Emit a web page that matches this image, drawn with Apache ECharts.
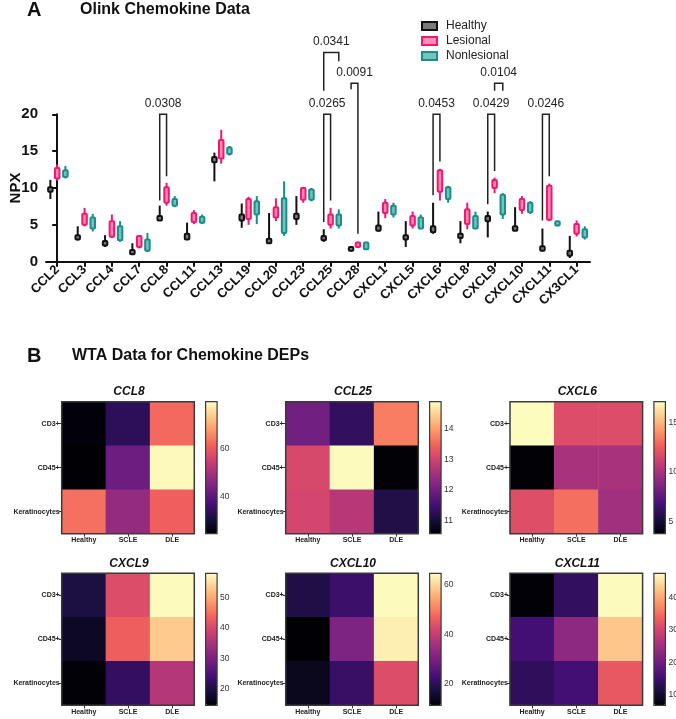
<!DOCTYPE html>
<html><head><meta charset="utf-8">
<script src="https://cdn.jsdelivr.net/npm/echarts@6/dist/echarts.min.js"></script>
<style>html,body{margin:0;padding:0;background:#fff}#c{width:676px;height:719px}</style>
</head><body><div id="c"></div>
<script>
// ---------- Panel A data ----------
const categories = ['CCL2','CCL3','CCL4','CCL7','CCL8','CCL11','CCL13','CCL19','CCL20','CCL23','CCL25','CCL28','CXCL1','CXCL5','CXCL6','CXCL8','CXCL9','CXCL10','CXCL11','CX3CL1'];
const groups = ['Healthy','Lesional','Nonlesional'];
const yTicks = [0,5,10,15,20];
// [min, q1, median, q3, max]
const healthy = [
  [8.5,9.5,9.8,10.1,11.1],[2.9,3.0,3.3,3.6,4.8],[2.0,2.2,2.5,2.8,3.6],[0.9,1.0,1.3,1.6,2.5],
  [5.6,5.6,5.9,6.2,7.6],[3.0,3.0,3.4,3.8,5.3],[10.9,13.5,13.8,14.2,14.8],[4.6,5.6,6.0,6.4,7.9],
  [2.5,2.5,2.8,3.1,6.6],[5.0,5.8,6.1,6.5,8.9],[2.7,2.9,3.2,3.5,4.4],[1.4,1.5,1.7,2.0,2.0],
  [4.1,4.2,4.5,4.9,6.8],[2.0,3.0,3.3,3.6,5.5],[3.8,4.0,4.4,4.8,8.0],[2.5,3.2,3.5,3.8,5.5],
  [3.3,5.5,5.8,6.2,6.8],[4.2,4.2,4.5,4.8,7.4],[1.5,1.5,1.8,2.1,4.5],[0.5,0.8,1.1,1.5,3.5]
];
const lesional = [
  [11.0,11.3,12.0,12.7,13.2],[4.8,5.0,5.8,6.5,7.3],[3.2,3.4,4.3,5.5,6.4],[1.8,2.0,2.7,3.5,3.6],
  [7.6,8.0,9.0,10.1,10.7],[5.1,5.4,6.0,6.6,7.0],[13.3,14.0,15.2,16.5,17.9],[5.0,5.8,7.0,8.5,8.8],
  [5.5,6.0,6.7,7.4,8.6],[8.0,8.4,9.2,10.0,10.1],[4.5,5.0,5.7,6.4,7.3],[2.0,2.0,2.3,2.6,2.7],
  [5.9,6.6,7.3,8.0,8.5],[4.5,4.9,5.5,6.2,6.8],[8.3,9.5,11.0,12.4,12.6],[4.4,5.1,6.0,7.1,8.0],
  [9.3,10.0,10.5,11.1,11.4],[6.5,7.0,7.8,8.5,8.9],[5.5,5.7,8.0,10.3,10.6],[3.4,3.8,4.4,5.1,5.6]
];
const nonlesional = [
  [11.3,11.5,12.0,12.4,13.0],[4.1,4.5,5.2,6.0,6.5],[2.7,2.9,3.8,4.8,5.5],[1.3,1.5,2.2,3.0,3.9],
  [7.4,7.6,8.0,8.5,8.9],[5.1,5.3,5.7,6.1,6.4],[14.4,14.6,15.0,15.5,15.7],[5.1,6.4,7.2,8.2,8.9],
  [3.5,3.9,6.0,8.6,10.9],[8.2,8.4,9.1,9.8,10.0],[4.5,4.9,5.6,6.4,7.1],[1.6,1.7,2.1,2.6,2.7],
  [6.0,6.4,7.0,7.6,8.0],[4.4,4.5,5.2,6.0,6.4],[8.0,8.5,9.3,10.1,10.3],[4.5,4.5,5.3,6.2,6.8],
  [5.8,6.4,7.8,9.1,9.3],[6.5,6.7,7.3,8.0,8.2],[4.8,4.9,5.2,5.5,5.5],[3.0,3.3,3.8,4.4,4.8]
];
// significance brackets: category index, group a, group b, bracket top, left leg end, right leg end (NPX units)
const bracketCat   = [4, 10, 10, 11, 14, 16, 16, 18];
const bracketGroupA = [0, 0, 0, 0, 0, 0, 1, 0];
const bracketGroupB = [1, 1, 2, 1, 1, 1, 2, 1];
const bracketTop   = [20, 20, 28.4, 24.2, 20, 20, 24.2, 20];
const bracketLeftEnd  = [8.3, 5.4, 23.2, 23.4, 9.0, 7.8, 23.2, 5.6];
const bracketRightEnd = [11.6, 8.3, 27.2, 3.8, 13.6, 12.3, 23.2, 11.6];
const bracketLabels = ['0.0308','0.0265','0.0341','0.0091','0.0453','0.0429','0.0104','0.0246'];

// ---------- Panel B data ----------
const cellRows = ['CD3+','CD45+','Keratinocytes'];
const cellCols = ['Healthy','SCLE','DLE'];
const heatGenes = ['CCL8','CCL25','CXCL6','CXCL9','CXCL10','CXCL11'];
// rows: CD3+, CD45+, Keratinocytes ; cols: Healthy, SCLE, DLE
const ccl8   = [[25, 33.5, 62],[24.5, 42, 79],[63, 47.5, 61]];
const ccl25  = [[12.0, 11.35, 13.7],[13.1, 14.85, 10.6],[13.05, 12.75, 11.15]];
const cxcl6  = [[17.1, 11.8, 11.8],[3.8, 10.0, 10.0],[11.9, 13.1, 9.8]];
const cxcl9  = [[19.9, 40.6, 57.6],[17.3, 43.1, 53],[15, 22.5, 36]];
const cxcl10 = [[18.3, 22, 64.5],[11.5, 30.6, 63],[14, 21.5, 43.4]];
const cxcl11 = [[7, 14, 47.2],[15.7, 23, 42.5],[13.6, 15.7, 32.7]];
const heatMatrices = [ccl8, ccl25, cxcl6, cxcl9, cxcl10, cxcl11];
const scaleMin = [24.4, 10.58, 3.74, 14.7, 11.4, 6.7];
const scaleMax = [79.5, 14.87, 17.14, 57.8, 64.7, 47.4];
const scaleTicks = [[40,60],[11,12,13,14],[5,10,15],[20,30,40,50],[20,40,60],[10,20,30,40]];

// ---------- styling / layout ----------
const FONT = '"Liberation Sans", Arial, sans-serif';
const strokes = ['#111111', '#f5166f', '#178e88'];
const fills = ['#7a7a7a', '#ff8cb5', '#76c2bd'];
const groupOffset = [-0.25, 0, 0.3];
const magma = ['#000004','#180f3d','#440f76','#721f81','#9e2f7f','#cd4071','#f1605d','#fd9668','#feca8d','#fcfdbf'];

function boxRender(g) {
  return function (params, api) {
    const c = api.value(0) + groupOffset[g];
    const pMin = api.coord([c, api.value(1)]);
    const pQ1 = api.coord([c, api.value(2)]);
    const pMed = api.coord([c, api.value(3)]);
    const pQ3 = api.coord([c, api.value(4)]);
    const pMax = api.coord([c, api.value(5)]);
    const w = 4.5;
    return { type: 'group', children: [
      { type: 'line', shape: { x1: pMin[0], y1: pMin[1], x2: pMax[0], y2: pMax[1] }, style: { stroke: strokes[g], lineWidth: 2 } },
      { type: 'rect', shape: { x: pQ3[0] - w / 2, y: pQ3[1], width: w, height: Math.max(pQ1[1] - pQ3[1], 1.5), r: 1 },
        style: { fill: fills[g], stroke: strokes[g], lineWidth: 2 } },
      { type: 'line', shape: { x1: pMed[0] - 1, y1: pMed[1], x2: pMed[0] + 1, y2: pMed[1] }, style: { stroke: fills[g], lineWidth: 1 } }
    ]};
  };
}

const boxSets = [healthy, lesional, nonlesional];
const series = [];
boxSets.forEach((set, g) => {
  series.push({
    type: 'custom', name: groups[g], xAxisIndex: 0, yAxisIndex: 0, clip: false,
    itemStyle: { color: strokes[g] },
    encode: { x: 0, y: [1, 2, 3, 4, 5] },
    data: set.map((d, i) => [i].concat(d)),
    renderItem: boxRender(g)
  });
});
series.push({
  type: 'custom', name: 'sig', xAxisIndex: 0, yAxisIndex: 0, clip: false, silent: true,
  encode: { x: 0, y: 3 },
  data: bracketCat.map((c, i) => [c, bracketGroupA[i], bracketGroupB[i], bracketTop[i], bracketLeftEnd[i], bracketRightEnd[i]]),
  renderItem: function (params, api) {
    const cat = api.value(0);
    const x1 = cat + groupOffset[api.value(1)], x2 = cat + groupOffset[api.value(2)];
    const top = api.value(3);
    const a = api.coord([x1, api.value(4)]), b = api.coord([x1, top]);
    const c = api.coord([x2, top]), d = api.coord([x2, api.value(5)]);
    return { type: 'group', children: [
      { type: 'polyline', shape: { points: [a, b, c, d] }, style: { stroke: '#222', lineWidth: 1.5, fill: null } },
      { type: 'text', x: (b[0] + c[0]) / 2, y: b[1] - 5,
        style: { text: bracketLabels[params.dataIndex], textAlign: 'center', textVerticalAlign: 'bottom', font: '12px ' + FONT, fill: '#222' } }
    ]};
  }
});

// heatmap layout
const hmLeft = [61.7, 285.7, 510];
const hmTop = [401.7, 573.3];
const hmW = 132.6, hmH = 132;
const cbGap = 11.3, cbW = 11.5;

const grids = [{ left: 46, top: 114.3, width: 544, height: 147.4, outerBoundsMode: 'none', containLabel: false }];
const xAxes = [{
  type: 'value', gridIndex: 0, min: -0.41, max: 19.49,
  splitLine: { show: false },
  axisLine: { show: true, lineStyle: { color: '#111', width: 2 } },
  axisTick: { show: true, customValues: categories.map((c, i) => i), length: 5, lineStyle: { color: '#111', width: 2 } },
  axisLabel: { customValues: categories.map((c, i) => i), formatter: v => categories[Math.round(v)] || '', rotate: 45, margin: 6,
    fontSize: 13, fontWeight: 'bold', color: '#111', fontFamily: FONT }
}];
const yAxes = [{
  type: 'value', gridIndex: 0, min: 0, max: 20, interval: 5,
  name: 'NPX', nameLocation: 'middle', nameGap: 23, nameMoveOverlap: false,
  nameTextStyle: { fontSize: 15, fontWeight: 'bold', color: '#111', fontFamily: FONT },
  splitLine: { show: false },
  axisLine: { show: true, lineStyle: { color: '#111', width: 2 } },
  axisTick: { show: true, length: 5, lineStyle: { color: '#111', width: 2 } },
  axisLabel: { fontSize: 15, fontWeight: 'bold', color: '#111', margin: 8, fontFamily: FONT,
    formatter: v => (yTicks.indexOf(v) >= 0 ? String(v) : '') }
}];
const visualMaps = [];
const graphics = [
  { type: 'text', left: 27, top: 0, style: { text: 'A', font: 'bold 20px ' + FONT, fill: '#111' } },
  { type: 'text', left: 80, top: 2, style: { text: 'Olink Chemokine Data', font: 'bold 16px ' + FONT, fill: '#111' } },
  { type: 'text', left: 27, top: 346, style: { text: 'B', font: 'bold 20px ' + FONT, fill: '#111' } },
  { type: 'text', left: 72, top: 348, style: { text: 'WTA Data for Chemokine DEPs', font: 'bold 16px ' + FONT, fill: '#111' } }
];

heatGenes.forEach((gene, k) => {
  const col = k % 3, row = Math.floor(k / 3);
  const L = hmLeft[col], T = hmTop[row];
  const hg = grids.length;
  grids.push({ left: L, top: T, width: hmW, height: hmH, show: true, borderColor: '#3a3a3a', borderWidth: 1.5, z: 10,
    backgroundColor: 'transparent', outerBoundsMode: 'none', containLabel: false });
  xAxes.push({ type: 'category', gridIndex: hg, data: cellCols,
    axisLine: { show: false }, splitLine: { show: false },
    axisTick: { show: true, alignWithLabel: true, length: 3, lineStyle: { color: '#333' } },
    axisLabel: { fontSize: 7, fontWeight: 'bold', color: '#222', margin: 3, fontFamily: FONT } });
  yAxes.push({ type: 'category', gridIndex: hg, data: cellRows, inverse: true,
    axisLine: { show: false }, splitLine: { show: false },
    axisTick: { show: true, alignWithLabel: true, length: 3, lineStyle: { color: '#333' } },
    axisLabel: { fontSize: 7, fontWeight: 'bold', color: '#222', margin: 2, fontFamily: FONT } });
  const m = heatMatrices[k];
  const data = [];
  m.forEach((r, ri) => r.forEach((v, ci) => data.push([ci, ri, v])));
  const sIdx = series.length;
  series.push({ type: 'heatmap', name: gene, xAxisIndex: hg, yAxisIndex: hg, data: data,
    itemStyle: { borderWidth: 0 }, emphasis: { disabled: true }, silent: true });
  const cbL = L + hmW + cbGap;
  const cg = grids.length;
  grids.push({ left: cbL, top: T, width: cbW, height: hmH, show: true, borderColor: '#3a3a3a', borderWidth: 1.2, z: 10,
    backgroundColor: 'transparent', outerBoundsMode: 'none', containLabel: false });
  xAxes.push({ type: 'value', gridIndex: cg, show: false, min: 0, max: 1 });
  yAxes.push({ type: 'value', gridIndex: cg, position: 'right', min: scaleMin[k], max: scaleMax[k],
    axisLine: { show: false }, splitLine: { show: false },
    axisTick: { show: true, customValues: scaleTicks[k], length: 3, lineStyle: { color: '#333' } },
    axisLabel: { customValues: scaleTicks[k], fontSize: 8.5, color: '#333', margin: 3, fontFamily: FONT } });
  visualMaps.push({ type: 'continuous', seriesIndex: sIdx, min: scaleMin[k], max: scaleMax[k],
    inRange: { color: magma }, calculable: false, hoverLink: false,
    itemWidth: cbW, itemHeight: hmH, left: cbL, top: T, padding: 0 });
  graphics.push({ type: 'text', x: L + hmW / 2 + 1, y: T - 10,
    style: { text: gene, font: 'italic bold 12px ' + FONT, fill: '#111', textAlign: 'center', textVerticalAlign: 'middle' } });
});

const chart = echarts.init(document.getElementById('c'), null, { renderer: 'canvas' });
chart.setOption({
  animation: false,
  backgroundColor: '#fff',
  textStyle: { fontFamily: FONT },
  legend: {
    data: groups.map((g, i) => ({ name: g, icon: 'rect', itemStyle: { color: fills[i], borderColor: strokes[i], borderWidth: 2 } })),
    orient: 'vertical', left: 421, top: 20, padding: 0, itemWidth: 15, itemHeight: 8, itemGap: 3,
    selectedMode: false,
    textStyle: { fontSize: 12, color: '#222', lineHeight: 12, fontFamily: FONT, padding: [0, 0, 0, 4] }
  },
  grid: grids,
  xAxis: xAxes,
  yAxis: yAxes,
  visualMap: visualMaps,
  graphic: graphics,
  series: series
});
</script></body></html>
